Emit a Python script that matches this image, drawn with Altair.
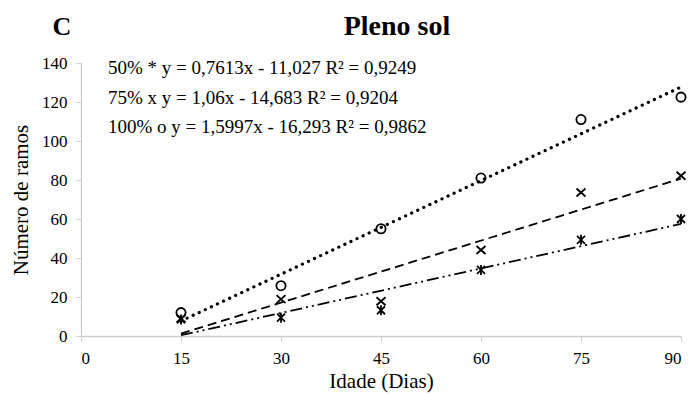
import altair as alt
import pandas as pd

days = [15, 30, 45, 60, 75, 90]
v50 = [8.5, 9.4, 13.2, 33.9, 49.3, 60.0]
v75 = [9.0, 18.9, 17.8, 44.1, 73.6, 82.2]
v100 = [12.0, 25.8, 55.0, 81.0, 111.0, 122.5]

fit_x = [15, 90]
fit50 = [0.39, 57.49]
fit75 = [1.22, 80.72]
fit100 = [7.70, 127.68]

x_ticks = [0, 15, 30, 45, 60, 75, 90]
y_ticks = [0, 20, 40, 60, 80, 100, 120, 140]

eq_lines = [
    "50% *  y = 0,7613x - 11,027 R² = 0,9249",
    "75%  x  y = 1,06x - 14,683  R² = 0,9204",
    "100%  o  y = 1,5997x - 16,293  R² = 0,9862",
]

FONT = "Times New Roman"

pts = pd.DataFrame({"d": days, "v50": v50, "v75": v75, "v100": v100})
fits = pd.DataFrame({"d": fit_x, "f50": fit50, "f75": fit75, "f100": fit100})

xs = alt.Scale(domain=[0, 90], nice=False)
ys = alt.Scale(domain=[0, 140], nice=False)
xax = alt.Axis(values=x_ticks, title="Idade (Dias)", grid=False, labelFont=FONT, titleFont=FONT)
yax = alt.Axis(values=y_ticks, title="Número de ramos", grid=False, labelFont=FONT, titleFont=FONT)

base_p = alt.Chart(pts)
base_f = alt.Chart(fits)

def X():
    return alt.X("d:Q", scale=xs, axis=xax)

ASTER = "M-0.8,-0.8L0.8,0.8M-0.8,0.8L0.8,-0.8M0,-1L0,1"
XMARK = "M-0.9,-0.8L0.9,0.8M-0.9,0.8L0.9,-0.8"

l100 = base_f.mark_line(color="black", strokeWidth=3.2, strokeDash=[0.1, 6.6], strokeCap="round").encode(
    x=X(), y=alt.Y("f100:Q", scale=ys, axis=yax))
l75 = base_f.mark_line(color="black", strokeWidth=1.8, strokeDash=[9, 5]).encode(
    x=X(), y=alt.Y("f75:Q", scale=ys, axis=yax))
l50 = base_f.mark_line(color="black", strokeWidth=1.8, strokeDash=[12, 4, 2, 4, 2, 4]).encode(
    x=X(), y=alt.Y("f50:Q", scale=ys, axis=yax))

p100 = base_p.mark_point(shape="circle", filled=False, color="black", strokeWidth=1.8, size=85, opacity=1).encode(
    x=X(), y=alt.Y("v100:Q", scale=ys, axis=yax))
p75 = base_p.mark_point(shape=XMARK, filled=False, color="black", strokeWidth=1.8, size=100, opacity=1).encode(
    x=X(), y=alt.Y("v75:Q", scale=ys, axis=yax))
p50 = base_p.mark_point(shape=ASTER, filled=False, color="black", strokeWidth=1.8, size=100, opacity=1).encode(
    x=X(), y=alt.Y("v50:Q", scale=ys, axis=yax))

texts = []
for line, ypos in zip(eq_lines, [5, 34.5, 63.5]):
    texts.append(
        alt.Chart(pd.DataFrame({"t": [line]})).mark_text(
            font=FONT, fontSize=19, align="left", baseline="middle", color="black"
        ).encode(x=alt.value(27), y=alt.value(ypos), text="t:N")
    )

title_c = alt.Chart(pd.DataFrame({"t": ["C"]})).mark_text(
    font=FONT, fontSize=26, fontWeight="bold", align="center", baseline="middle", color="black"
).encode(x=alt.value(-19), y=alt.value(-36), text="t:N")
title_p = alt.Chart(pd.DataFrame({"t": ["Pleno sol"]})).mark_text(
    font=FONT, fontSize=28, fontWeight="bold", align="center", baseline="middle", color="black"
).encode(x=alt.value(316), y=alt.value(-36), text="t:N")

chart = alt.layer(l100, l75, l50, p100, p75, p50, *texts, title_c, title_p).properties(
    width=600, height=273,
    autosize=alt.AutoSizeParams(type="none"),
    padding={"left": 81, "top": 63, "right": 8, "bottom": 58},
).configure_view(stroke=None).configure_axis(
    domainColor="#cccccc", tickColor="#cccccc", tickSize=5, domainWidth=1.3,
    labelFont=FONT, labelFontSize=17, labelColor="black",
    titleFont=FONT, titleFontSize=21, titleColor="black", titleFontWeight="normal",
).configure_axisX(labelPadding=9, titlePadding=4).configure_axisY(labelPadding=9, titlePadding=10)

chart.save("out.html", embed_options={"renderer": "svg", "actions": False})
